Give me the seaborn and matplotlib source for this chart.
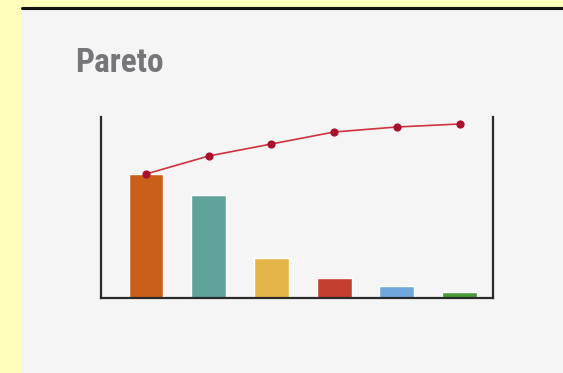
import matplotlib
matplotlib.use("Agg")
import matplotlib.pyplot as plt
from matplotlib import font_manager
import seaborn as sns
import pandas as pd

categories = ["A", "B", "C", "D", "E", "F"]
bar_values = [124, 103, 40, 20, 12, 6]
cumulative_line = [124, 142, 154, 166, 171, 174]
bar_colors = ["#c96019", "#5fa39a", "#e5b548", "#c43f2f", "#6fa8dc", "#4b9a3a"]
title = "Pareto"

sns.set_theme(style="white")
plt.rcParams["font.family"] = ["DejaVu Sans"]

W, H = 563, 373
fig = plt.figure(figsize=(W / 100, H / 100), dpi=100)
fig.patch.set_facecolor("#ffffbb")

# gray panel with dark top rule
fig.patches.append(plt.Rectangle((22 / W, 0), 1 - 22 / W, 1 - 8.5 / H,
                                 transform=fig.transFigure, facecolor="#f5f5f5",
                                 edgecolor="none", zorder=-5))
fig.lines.append(plt.Line2D([22 / W, 1], [1 - 8 / H, 1 - 8 / H], transform=fig.transFigure,
                            color="#111111", linewidth=2.2, zorder=-4))

avail = {f.name for f in font_manager.fontManager.ttflist}
title_fams = [f for f in ["Liberation Sans Narrow", "Roboto Condensed", "DejaVu Sans Condensed",
                          "Open Sans Condensed", "Roboto", "DejaVu Sans"] if f in avail]
fig.text(75 / W, 1 - 72 / H, title, fontsize=24, fontweight="bold", color="#76767a",
         family=title_fams, ha="left", va="baseline")

ax = fig.add_axes([101 / W, 1 - 298 / H, 392 / W, 181 / H])
ax.set_zorder(2)
ax.set_facecolor("none")

df = pd.DataFrame({"cat": categories, "val": bar_values, "cum": cumulative_line})
sns.barplot(data=df, x="cat", y="val", hue="cat", palette=bar_colors, width=0.555,
            legend=False, ax=ax, saturation=1)
sns.pointplot(data=df, x="cat", y="cum", color="#d0323e", markers="o", ax=ax,
              markersize=5, linewidth=1.2)
for line in ax.lines:
    line.set_markerfacecolor("#a80f2c")
    line.set_markeredgecolor("#a80f2c")

ax.set_xlim(-0.718, 5.534)
ax.set_ylim(0, 181)
ax.set_xticks([])
ax.set_yticks([])
ax.set_xlabel("")
ax.set_ylabel("")
for s in ["left", "right", "bottom"]:
    ax.spines[s].set_visible(True)
    ax.spines[s].set_color("#2a2a2a")
    ax.spines[s].set_linewidth(1.6)
ax.spines["top"].set_visible(False)

fig.savefig("out.png", dpi=100, facecolor=fig.get_facecolor())
